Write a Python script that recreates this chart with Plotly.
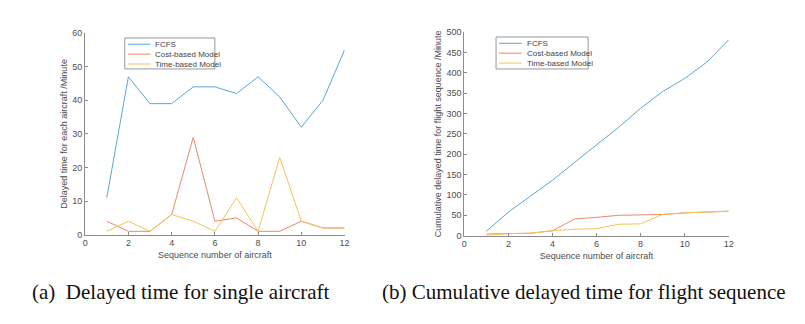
import plotly.graph_objects as go

seq = [1, 2, 3, 4, 5, 6, 7, 8, 9, 10, 11, 12]

# (a) delay per aircraft, minutes
fcfs = [11, 47, 39, 39, 44, 44, 42, 47, 41, 32, 40, 55]
cost_model = [4, 1, 1, 6, 29, 4, 5, 1, 1, 4, 2, 2]
time_model = [1, 4, 1, 6, 4, 1, 11, 1, 23, 4, 2, 2]

# (b) cumulative delay, minutes
fcfs_cum = [11, 58, 97, 136, 180, 224, 266, 313, 354, 386, 426, 481]
cost_cum = [4, 5, 6, 12, 41, 45, 50, 51, 52, 56, 58, 60]
time_cum = [1, 5, 6, 12, 16, 17, 28, 29, 52, 56, 58, 60]

names = ["FCFS", "Cost-based Model", "Time-based Model"]
colors = ["#5aa5da", "#e9896a", "#f2c454"]
captions = ["(a)  Delayed time for single aircraft",
            "(b) Cumulative delayed time for flight sequence"]

W, H = 805, 324


def px(x):
    return x / W


def py(y):
    return 1 - y / H


fig = go.Figure()

for ys, name, c in zip([fcfs, cost_model, time_model], names, colors):
    fig.add_trace(
        go.Scatter(x=seq, y=ys, name=name, mode="lines",
                   line=dict(color=c, width=1), xaxis="x", yaxis="y")
    )

for ys, name, c in zip([fcfs_cum, cost_cum, time_cum], names, colors):
    fig.add_trace(
        go.Scatter(x=seq, y=ys, name=name, mode="lines",
                   line=dict(color=c, width=1), xaxis="x2", yaxis="y2")
    )

axis_style = dict(
    showline=True, linecolor="#8c8c8c", linewidth=1,
    ticks="inside", ticklen=3, tickcolor="#8c8c8c",
    showgrid=False, zeroline=False,
    tickfont=dict(size=9, color="#4d4d4d"),
)
title_font = dict(size=9, color="#4d4d4d")

fig.update_layout(
    width=W, height=H,
    margin=dict(l=0, r=0, t=0, b=0),
    paper_bgcolor="white", plot_bgcolor="white",
    showlegend=False,
    font=dict(family="Arial, Liberation Sans, sans-serif", color="#4d4d4d"),
    xaxis=dict(domain=[px(83), px(345)], range=[0, 12], dtick=2, anchor="y",
               title=dict(text="Sequence number of aircraft", font=title_font, standoff=4),
               **axis_style),
    yaxis=dict(domain=[py(237), py(29)], range=[0, 60], dtick=10, anchor="x",
               title=dict(text="Delayed time for each aircraft /Minute", font=title_font, standoff=3),
               **axis_style),
    xaxis2=dict(domain=[px(466), px(733)], range=[0, 12], dtick=2, anchor="y2",
                title=dict(text="Sequence number of aircraft", font=title_font, standoff=4),
                **axis_style),
    yaxis2=dict(domain=[py(238), py(28)], range=[0, 500], dtick=50, anchor="x2",
                title=dict(text="Cumulative delayed time for flight sequence /Minute", font=title_font, standoff=3),
                **axis_style),
)

# legends drawn by hand (plotly's legend rows are too tall for this layout)
legend_boxes = [(123, 34, 214, 66), (498, 33, 591, 66)]
for x0, y0, x1, y1 in legend_boxes:
    fig.add_shape(type="rect", xref="paper", yref="paper",
                  x0=px(x0), x1=px(x1), y0=py(y1), y1=py(y0),
                  line=dict(color="#999999", width=1), fillcolor="white")
    for i, (name, c) in enumerate(zip(names, colors)):
        yc = y0 + 6.5 + i * 10.2
        fig.add_shape(type="line", xref="paper", yref="paper",
                      x0=px(x0 + 3), x1=px(x0 + 26), y0=py(yc), y1=py(yc),
                      line=dict(color=c, width=1))
        fig.add_annotation(text=name, x=px(x0 + 29), y=py(yc), xref="paper", yref="paper",
                           xanchor="left", yanchor="middle", showarrow=False,
                           font=dict(size=8, color="#444444"))

for text, cx in zip(captions, [180, 587]):
    fig.add_annotation(
        text=text, x=px(cx), y=py(296), xref="paper", yref="paper",
        xanchor="center", yanchor="middle", showarrow=False,
        font=dict(family="Liberation Serif, Times New Roman, serif", size=21, color="#111111"),
    )

fig.write_html("out.html", config={"displayModeBar": False},
               post_script="document.body.style.margin='0';")
